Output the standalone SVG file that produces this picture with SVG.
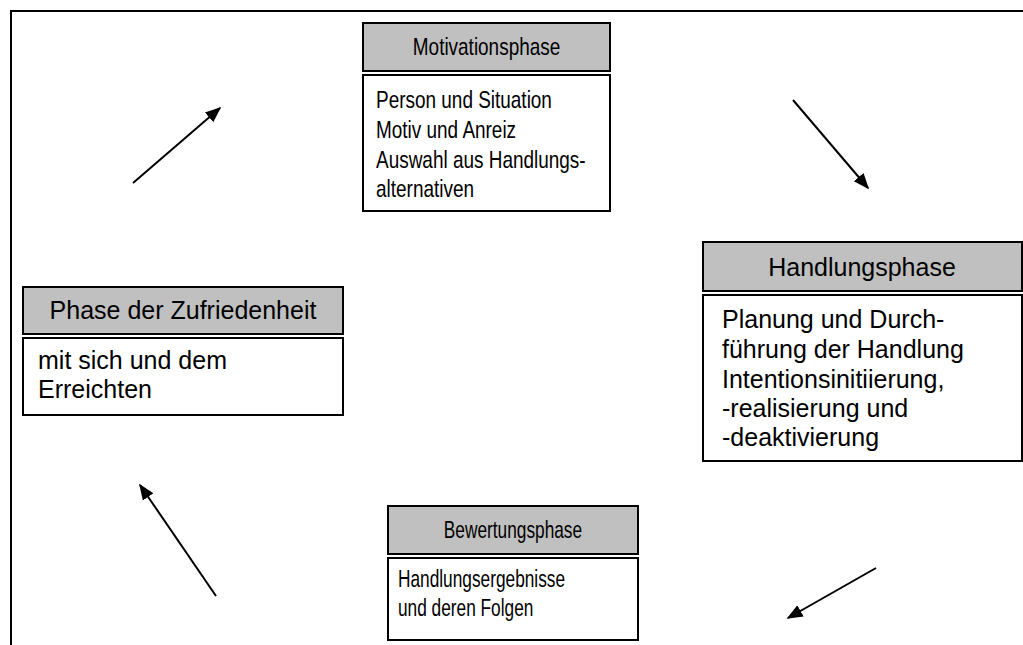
<svg xmlns="http://www.w3.org/2000/svg" width="1023" height="645" viewBox="0 0 1023 645">
  <style>
    .frame { fill: none; stroke: #000; stroke-width: 2; }
    .head { fill: #c0c0c0; stroke: #000; stroke-width: 2; }
    .body { fill: #fff; stroke: #000; stroke-width: 2; }
    .t { font-family: "Liberation Sans", Arial, sans-serif; font-size: 24px; fill: #000; }
    .w { font-size: 25px; }
    .c { text-anchor: middle; }
    .arrow { stroke: #000; stroke-width: 2; fill: none; marker-end: url(#tip); }
  </style>
  <defs>
    <marker id="tip" viewBox="0 0 10 10" refX="9" refY="5" markerWidth="8" markerHeight="8" markerUnits="strokeWidth" orient="auto">
      <path d="M0,1 L10,5 L0,9 Z" fill="#000"/>
    </marker>
  </defs>
  <rect width="1023" height="645" fill="#fff"/>

  <!-- outer frame (top and left edges) -->
  <path class="frame" d="M11,645 V11 H1023"/>

  <g id="motivationsphase">
    <rect class="head" x="363" y="23" width="247" height="48"/>
    <rect class="body" x="363" y="75" width="247" height="136"/>
    <g transform="matrix(0.79 0 0 1 102.2 0)">
      <text class="t c" x="486.5" y="55">Motivationsphase</text>
    </g>
    <g transform="matrix(0.79 0 0 1 79 0)">
      <text class="t" x="376" y="108">Person und Situation</text>
      <text class="t" x="376" y="138">Motiv und Anreiz</text>
      <text class="t" x="376" y="168">Auswahl aus Handlungs-</text>
      <text class="t" x="376" y="197">alternativen</text>
    </g>
  </g>

  <g id="handlungsphase">
    <rect class="head" x="703" y="242" width="319" height="49"/>
    <rect class="body" x="703" y="295" width="319" height="166"/>
    <text class="t w c" x="862" y="276">Handlungsphase</text>
    <text class="t w" x="722" y="328">Planung und Durch-</text>
    <text class="t w" x="722" y="358">führung der Handlung</text>
    <text class="t w" x="722" y="388">Intentionsinitiierung,</text>
    <text class="t w" x="722" y="417">-realisierung und</text>
    <text class="t w" x="722" y="446">-deaktivierung</text>
  </g>

  <g id="zufriedenheit">
    <rect class="head" x="23" y="287" width="320" height="47"/>
    <rect class="body" x="23" y="338" width="320" height="77"/>
    <text class="t w c" x="183" y="319">Phase der Zufriedenheit</text>
    <text class="t w" x="38" y="369">mit sich und dem</text>
    <text class="t w" x="38" y="398">Erreichten</text>
  </g>

  <g id="bewertungsphase">
    <rect class="head" x="388" y="506" width="250" height="48"/>
    <rect class="body" x="388" y="558" width="250" height="82"/>
    <g transform="matrix(0.72 0 0 1 143.6 0)">
      <text class="t c" x="513" y="538">Bewertungsphase</text>
    </g>
    <g transform="matrix(0.72 0 0 1 111.4 0)">
      <text class="t" x="398" y="587">Handlungsergebnisse</text>
      <text class="t" x="398" y="616">und deren Folgen</text>
    </g>
  </g>

  <g id="connectors">
    <line class="arrow" x1="133" y1="183" x2="220" y2="108"/>
    <line class="arrow" x1="793" y1="100" x2="868" y2="188"/>
    <line class="arrow" x1="876" y1="568" x2="788" y2="618"/>
    <line class="arrow" x1="216" y1="596" x2="140" y2="485"/>
  </g>
</svg>
